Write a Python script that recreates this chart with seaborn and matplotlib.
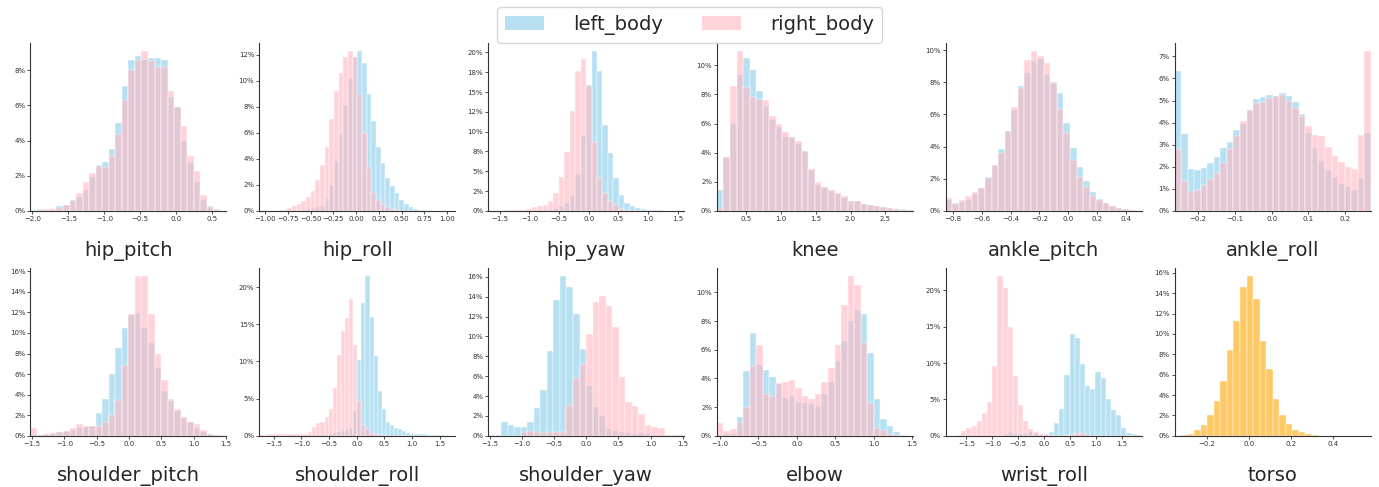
import numpy as np
import pandas as pd
import matplotlib
matplotlib.use("Agg")
import matplotlib.pyplot as plt
import seaborn as sns
from matplotlib.colors import to_rgba
from matplotlib.patches import Patch
from matplotlib.ticker import PercentFormatter

# share of samples per bin, in percent
hip_pitch_left = [0.05, 0.1, 0.05, 0.1, 0.25, 0.35, 0.6, 0.8, 1.2, 1.9, 2.6, 2.8, 3.5, 5.0, 7.1,
                  8.6, 8.8, 8.6, 8.7, 8.7, 8.6, 6.5, 5.9, 4.0, 2.7, 1.65, 0.6, 0.3, 0.1, 0.02]
hip_pitch_right = [0.0, 0.05, 0.1, 0.1, 0.15, 0.35, 0.55, 1.0, 1.65, 2.15, 2.55, 2.5, 3.1, 4.4, 6.3,
                   8.0, 8.6, 9.1, 8.5, 8.2, 8.2, 6.8, 5.9, 4.85, 3.1, 2.25, 0.9, 0.2, 0.05, 0.0]

hip_roll_left = [0] * 9 + [0.05, 0.1, 0.2, 0.3, 0.4, 0.9, 2.0, 3.85, 5.9, 8.1, 10.1, 11.8, 12.3, 11.4,
                           9.0, 6.9, 4.9, 3.65, 2.5, 1.95, 1.35, 0.8, 0.55, 0.3, 0.15, 0.08, 0.04] + [0] * 6
hip_roll_right = [0, 0, 0.01, 0.02, 0.05, 0.1, 0.2, 0.35, 0.5, 0.75, 1.05, 1.55, 2.4, 3.5, 4.9, 7.1,
                  9.25, 10.6, 11.8, 12.3, 11.8, 9.0, 6.0, 3.3, 1.45, 0.8, 0.5, 0.3, 0.15, 0.08] + [0] * 12

hip_yaw_left = [0] * 8 + [0.05, 0.1, 0.1, 0.15, 0.3, 0.6, 1.0, 1.9, 4.7, 9.4, 15.9, 20.2, 17.7, 10.8,
                          7.3, 4.1, 2.0, 1.0, 0.6, 0.4, 0.25, 0.15, 0.1, 0.05] + [0] * 4
hip_yaw_right = [0, 0, 0.02, 0.05, 0.08, 0.12, 0.15, 0.3, 0.45, 0.6, 0.8, 1.3, 2.2, 4.3, 7.4, 12.6,
                 17.6, 19.2, 15.8, 8.7, 4.1, 2.3, 1.2, 0.7, 0.3, 0.15, 0.08] + [0] * 9

knee_left = [1.45, 3.7, 6.0, 9.35, 10.5, 9.7, 8.25, 7.2, 6.25, 5.75, 5.1, 5.05, 4.6, 4.1, 2.8,
             1.8, 1.6, 1.4, 1.15, 0.9, 0.7, 0.65, 0.5, 0.4, 0.35, 0.3, 0.2, 0.12, 0.12, 0.05]
knee_right = [0.2, 3.7, 8.6, 11.0, 8.5, 7.8, 7.7, 7.6, 6.55, 5.95, 5.4, 5.05, 4.8, 4.1, 2.9,
              2.0, 1.65, 1.45, 1.2, 1.0, 0.7, 0.65, 0.5, 0.4, 0.35, 0.25, 0.2, 0.12, 0.05, 0.03]

ankle_pitch_left = [0.65, 0.52, 0.55, 0.7, 1.05, 1.45, 2.08, 2.88, 3.85, 4.98, 6.25, 7.75, 8.58, 9.35,
                    9.45, 8.43, 8.0, 7.32, 5.45, 3.88, 2.71, 1.83, 1.2, 0.75, 0.5, 0.3, 0.2, 0.12, 0.05, 0.02]
ankle_pitch_right = [0.8, 0.45, 0.7, 0.95, 1.17, 1.45, 2.05, 2.88, 3.6, 4.98, 6.45, 7.65, 9.37, 9.95,
                     9.65, 9.2, 7.95, 6.32, 4.82, 3.15, 2.1, 1.48, 0.9, 0.7, 0.5, 0.3, 0.2, 0.12, 0.05, 0.02]

ankle_roll_left = [6.35, 3.5, 1.9, 1.85, 1.95, 2.15, 2.45, 2.85, 3.1, 3.65, 3.95, 4.55, 5.05, 5.15, 5.25,
                   5.2, 5.35, 5.2, 4.95, 4.4, 3.55, 2.85, 2.25, 1.85, 1.55, 1.2, 1.1, 0.95, 1.5, 3.55]
ankle_roll_right = [2.8, 1.35, 0.85, 0.95, 1.15, 1.45, 1.7, 2.15, 2.8, 3.4, 4.05, 4.55, 4.9, 4.95, 5.1,
                    5.2, 5.25, 5.0, 4.65, 4.3, 3.85, 3.45, 3.4, 2.9, 2.5, 2.2, 2.0, 1.9, 3.45, 7.25]

shoulder_pitch_left = [0.1, 0.1, 0.15, 0.25, 0.4, 0.45, 0.6, 0.75, 0.9, 0.95, 2.25, 3.6, 6.0, 8.5, 10.5,
                       11.7, 11.9, 10.5, 9.0, 6.6, 4.4, 3.4, 2.45, 1.75, 1.35, 0.8, 0.35, 0.15, 0.05, 0.02]
shoulder_pitch_right = [0.75, 0.1, 0.15, 0.25, 0.35, 0.45, 0.8, 1.15, 1.0, 0.95, 1.0, 1.3, 2.05, 3.5, 6.85,
                        11.8, 15.5, 15.55, 11.8, 8.0, 5.4, 3.55, 2.6, 1.8, 1.3, 1.15, 0.6, 0.15, 0.05, 0.02]

shoulder_roll_left = [0] * 7 + [0.05] * 10 + [0.3, 0.4, 0.5, 0.6, 0.8, 1.0, 3.4, 10.2, 17.8, 21.5, 16.0,
                                              10.7, 6.0, 3.6, 1.8, 1.4, 1.1, 0.9, 0.7, 0.4, 0.3, 0.25,
                                              0.2, 0.2, 0.15, 0.1, 0.1, 0.1, 0.05] + [0] * 2
shoulder_roll_right = [0.1, 0.15, 0.2, 0.25, 0.2, 0.3, 0.2, 0.3, 0.3, 0.25, 0.2, 0.2, 0.5, 1.2, 1.7, 1.8,
                       2.6, 3.6, 6.4, 10.8, 14.1, 15.8, 18.4, 12.2, 4.7, 1.5, 0.9, 0.4, 0.2, 0.1, 0.05] + [0] * 17

shoulder_yaw_left = [0.1, 0.1, 1.4, 1.1, 0.9, 0.9, 1.4, 2.85, 4.65, 8.55, 13.7, 16.1, 15.0, 12.3, 8.7,
                     5.0, 2.9, 2.0, 0.7, 0.5, 0.35, 0.25, 0.2, 0.25, 0.15, 0.1, 0.05, 0.05, 0.1, 0.1]
shoulder_yaw_right = [0, 0, 0, 0, 0, 0.4, 0.5, 0.35, 0.3, 0.35, 0.4, 0.4, 3.15, 5.85, 7.2,
                      10.2, 13.5, 14.05, 13.1, 11.0, 5.9, 3.4, 3.0, 2.15, 1.1, 0.85, 0.8, 0.05, 0, 0]

elbow_left = [0.05, 0.1, 0.1, 1.3, 4.5, 7.15, 4.95, 4.6, 4.1, 3.6, 2.65, 2.75, 2.35, 2.3, 2.2,
              2.1, 2.9, 3.75, 5.2, 6.6, 8.0, 8.75, 8.5, 5.75, 2.55, 1.2, 0.7, 0.3, 0.05, 0]
elbow_right = [0.9, 0.35, 0.5, 0.95, 2.0, 4.85, 6.35, 2.95, 2.8, 3.65, 3.75, 3.9, 3.35, 2.8, 2.6,
               2.9, 3.75, 4.7, 6.35, 9.15, 11.15, 10.5, 6.45, 2.3, 0.55, 0.4, 0.1, 0.05, 0, 0]

wrist_roll_left = [0] * 11 + [0.2, 0.5, 0.3, 0.2, 0.2, 0.5, 0.3, 0.1, 0.1, 0.6, 1.8, 3.7, 8.4, 14.0, 13.4,
                              9.9, 6.85, 6.5, 8.8, 8.0, 5.0, 3.6, 2.85, 1.15, 0.45, 0.2, 0.1]
wrist_roll_right = [0.02, 0.05, 0.1, 0.65, 1.1, 1.3, 2.1, 3.1, 4.6, 9.6, 22.0, 20.3, 15.0, 8.25, 4.3,
                    2.1, 1.0, 0.5, 0.3, 0.2, 0.1, 0.05, 0, 0.1, 0.3, 0.45, 0.4, 0.2] + [0] * 10

torso_values = [0.02, 0.05, 0.2, 0.55, 1.1, 2.0, 3.45, 5.35, 8.4, 11.3, 14.6, 15.7, 13.4, 9.3, 6.6,
                3.65, 2.0, 1.2, 0.6, 0.35, 0.15, 0.05, 0.02, 0.01, 0, 0, 0, 0, 0, 0]

# histogram bins: (first edge, last edge, number of bins)
bin_ranges = {
    "hip_pitch": (-2.03, 0.70, 30),
    "hip_roll": (-1.066, 1.09, 42),
    "hip_yaw": (-1.70, 1.612, 36),
    "knee": (0.075, 2.90, 30),
    "ankle_pitch": (-0.849, 0.51, 30),
    "ankle_roll": (-0.2636, 0.269, 30),
    "shoulder_pitch": (-1.529, 1.508, 30),
    "shoulder_roll": (-1.764, 1.782, 48),
    "shoulder_yaw": (-1.526, 1.52, 30),
    "elbow": (-1.04, 1.51, 30),
    "wrist_roll": (-1.90, 1.89, 38),
    "torso": (-0.353, 0.577, 30),
}

joints = {
    "hip_pitch": (hip_pitch_left, hip_pitch_right),
    "hip_roll": (hip_roll_left, hip_roll_right),
    "hip_yaw": (hip_yaw_left, hip_yaw_right),
    "knee": (knee_left, knee_right),
    "ankle_pitch": (ankle_pitch_left, ankle_pitch_right),
    "ankle_roll": (ankle_roll_left, ankle_roll_right),
    "shoulder_pitch": (shoulder_pitch_left, shoulder_pitch_right),
    "shoulder_roll": (shoulder_roll_left, shoulder_roll_right),
    "shoulder_yaw": (shoulder_yaw_left, shoulder_yaw_right),
    "elbow": (elbow_left, elbow_right),
    "wrist_roll": (wrist_roll_left, wrist_roll_right),
    "torso": (torso_values,),
}

LEFT_COLOR = "skyblue"
RIGHT_COLOR = "lightpink"
TORSO_COLOR = "orange"


def draw_joint(ax, name):
    lo, hi, n = bin_ranges[name]
    edges = np.linspace(lo, hi, n + 1)
    centers = (edges[:-1] + edges[1:]) / 2
    series = joints[name]
    colors = [TORSO_COLOR] if len(series) == 1 else [LEFT_COLOR, RIGHT_COLOR]
    for values, color in zip(series, colors):
        df = pd.DataFrame({"angle": centers, "pct": values})
        sns.histplot(data=df, x="angle", weights="pct", bins=edges.tolist(),
                     color=color, alpha=0.6, linewidth=0.3, ax=ax)
    ax.set_xlim(lo, hi)
    ax.yaxis.set_major_formatter(PercentFormatter(xmax=100, decimals=0))
    ax.set_ylabel("")
    ax.set_xlabel(name, fontsize=14, labelpad=14)
    ax.tick_params(labelsize=5, length=2, width=0.6, pad=1.5, colors="#333333")
    for side in ("left", "bottom"):
        ax.spines[side].set_linewidth(0.8)
        ax.spines[side].set_color("#333333")
    sns.despine(ax=ax)


def main():
    sns.set_style("ticks")
    fig, axes = plt.subplots(2, 6, figsize=(13.79, 4.87), dpi=100)
    fig.subplots_adjust(left=0.022, right=0.994, top=0.912, bottom=0.105, wspace=0.167, hspace=0.339)

    for ax, name in zip(axes.flat, joints):
        draw_joint(ax, name)

    handles = [Patch(facecolor=to_rgba(LEFT_COLOR, 0.6), edgecolor="none"),
               Patch(facecolor=to_rgba(RIGHT_COLOR, 0.6), edgecolor="none")]
    fig.legend(handles, ["left_body", "right_body"], loc="upper center", bbox_to_anchor=(0.5, 1.005),
               ncol=2, fontsize=14, handlelength=2.0, handleheight=0.7, handletextpad=1.5,
               columnspacing=2.0)

    fig.savefig("out.png", dpi=100)


if __name__ == "__main__":
    main()
